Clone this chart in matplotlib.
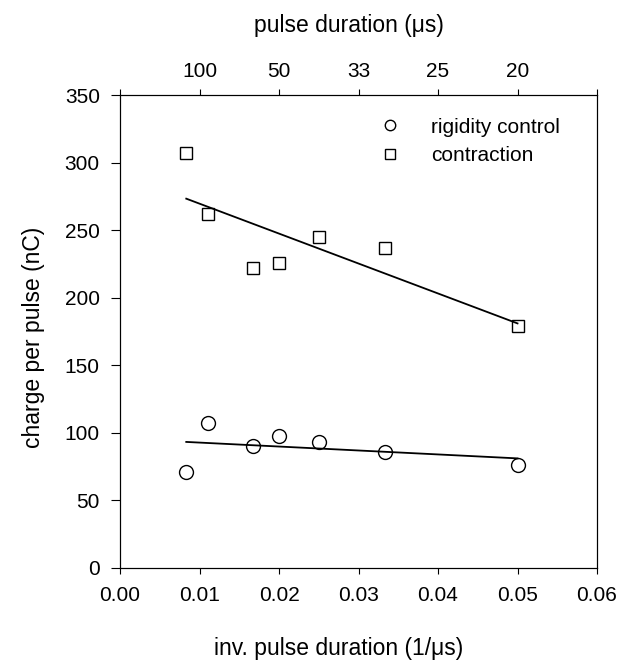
import matplotlib
matplotlib.use('Agg')
import matplotlib.pyplot as plt
import numpy as np

plt.rcParams['font.family'] = ['Liberation Sans', 'DejaVu Sans']

# inverse pulse duration (1/us) for 120, 90, 60, 50, 40, 30, 20 us
inv_duration = [1 / 120, 1 / 90, 1 / 60, 1 / 50, 1 / 40, 1 / 30, 1 / 20]
rigidity = [71, 107.5, 90.5, 97.5, 93.5, 86, 76]
contraction = [307, 262, 222, 226, 245, 237, 179]

x_ticks = [0.00, 0.01, 0.02, 0.03, 0.04, 0.05, 0.06]
top_labels = ['', '100', '50', '33', '25', '20', '']
y_ticks = [0, 50, 100, 150, 200, 250, 300, 350]


def fit_line(x, y):
    fit = np.poly1d(np.polyfit(x, y, 1))
    xs = np.array([min(x), max(x)])
    return xs, fit(xs)


fig = plt.figure(figsize=(6.27, 6.63), dpi=100)
ax = fig.add_axes([0.1914, 0.1433, 0.7608, 0.7134])

ax.plot(inv_duration, rigidity, 'o', mfc='none', mec='black', mew=1.0,
        markersize=10, linestyle='none', label='rigidity control')
ax.plot(inv_duration, contraction, 's', mfc='none', mec='black', mew=1.0,
        markersize=9.3, linestyle='none', label='contraction')

xs, ys = fit_line(inv_duration, rigidity)
ax.plot(xs, ys, color='black', lw=1.3)
xs, ys = fit_line(inv_duration, contraction)
ax.plot(xs, ys, color='black', lw=1.3)

ax.set_xlim(0, 0.06)
ax.set_ylim(0, 350)
ax.set_xticks(x_ticks)
ax.set_xticklabels(['%.2f' % t for t in x_ticks])
ax.set_yticks(y_ticks)
ax.tick_params(axis='x', direction='out', length=4.3, width=0.8, labelsize=15, pad=9)
ax.tick_params(axis='y', direction='out', length=6.5, width=0.8, labelsize=15, pad=8,
               right=False)

ax.set_xlabel('inv. pulse duration (1/\u03bcs)', fontsize=16.5, va='center')
ax.xaxis.set_label_coords(0.459, -0.171)
ax.set_ylabel('charge per pulse (nC)', fontsize=16.5, va='center')
ax.yaxis.set_label_coords(-0.182, 0.487)

top = ax.twiny()
top.set_xlim(ax.get_xlim())
top.set_xticks(x_ticks)
top.set_xticklabels(top_labels)
top.tick_params(direction='out', length=4.3, width=0.8, labelsize=15, pad=6)
top.set_xlabel('pulse duration (\u03bcs)', fontsize=16.5, va='center')
top.xaxis.set_label_coords(0.48, 1.146)

for a in (ax, top):
    for s in a.spines.values():
        s.set_linewidth(0.8)

ax.legend(loc='upper left', bbox_to_anchor=(0.522, 0.952), frameon=False,
          fontsize=15, markerscale=0.75, handlelength=2.0, handletextpad=0.97,
          borderaxespad=0, borderpad=0, labelspacing=0.45)

fig.savefig('out.png', dpi=100)
